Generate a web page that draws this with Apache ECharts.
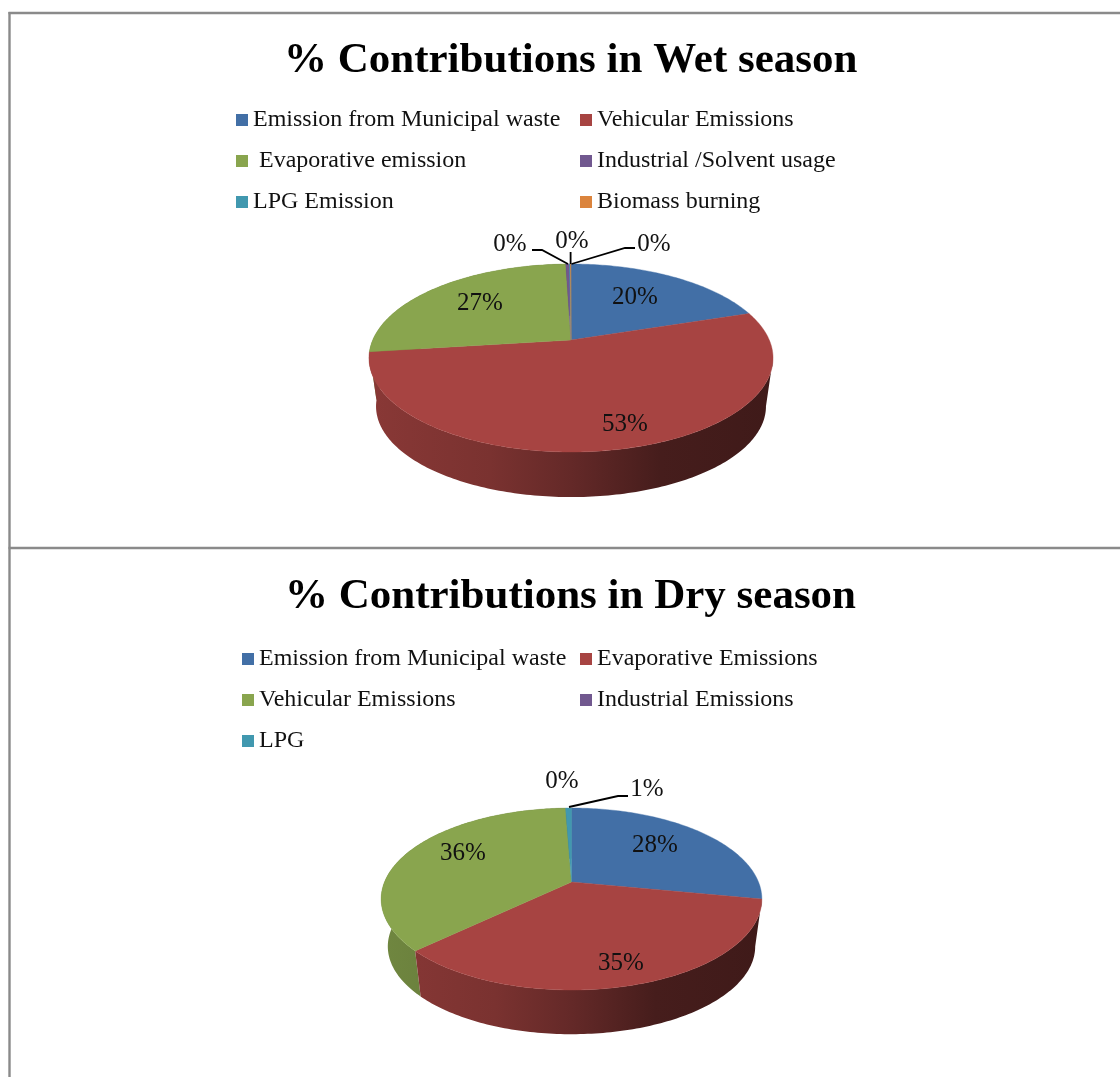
<!DOCTYPE html>
<html><head><meta charset="utf-8">
<script src="https://cdn.jsdelivr.net/npm/echarts@6/dist/echarts.min.js"></script>
<style>
html,body{margin:0;padding:0;background:#fff;width:1120px;height:1077px;overflow:hidden}
.c{position:absolute;left:0;top:0;width:1120px;height:1077px;filter:blur(0.55px)}
</style></head><body>
<div id="wet" class="c"></div><div id="dry" class="c"></div>
<script>
// ---- data ----
const wetCategories = ['Emission from Municipal waste','Vehicular Emissions',' Evaporative emission','Industrial /Solvent usage','LPG Emission','Biomass burning'];
const wetValues = [20, 53, 26.5, 0.35, 0.1, 0.05];
const dryCategories = ['Emission from Municipal waste','Evaporative Emissions','Vehicular Emissions','Industrial Emissions','LPG'];
const dryValues = [28, 35, 36.4, 0, 0.6];
const sliceColors = ['#426fa6','#a74442','#89a54e','#71588f','#4198af','#db843d'];
const wetTitle = '% Contributions in Wet season';
const dryTitle = '% Contributions in Dry season';

// ---- layout ----
const FONT = '"Liberation Serif","Times New Roman",serif';
const wetLayout = {
  cx:571, cy:340, R:198.3, a:90.55, k:0.1915, dy:49, shrink:0.965, gx:[369,773],
  titleLeft:284, titleTop:39,
  legendLefts:[236,580], legendTop:108,
  labels:[[635,297],[625,424],[480,303],[510,244],[572,241],[654,244]],
  leaders:[null,null,null,[[532,250],[542,250],[568,264]],[[570.6,252],[570.6,264]],[[571.5,264],[625,248],[635,248]]]
};
const dryLayout = {
  cx:571.5, cy:882, R:187, a:87.8, k:0.187, dy:48, shrink:0.965, gx:[381,762],
  titleLeft:285, titleTop:575,
  legendLefts:[242,580], legendTop:647,
  labels:[[655,845],[621,963],[463,853],[562,781],[647,789]],
  leaders:[null,null,null,null,[[569,807],[618,796],[628,796]]]
};
const wallStops = [[0,.82],[.3,.73],[.5,.6],[.72,.42],[1,.38]];

function shade(hex,f){
  const n=parseInt(hex.slice(1),16);
  return 'rgb('+[(n>>16)&255,(n>>8)&255,n&255].map(v=>Math.round(v*f)).join(',')+')';
}
function project(L,theta){            // perspective view of the flat pie
  const u=Math.sin(theta), v=Math.cos(theta), w=1+L.k*v;
  return [L.R*u/w, -L.a*v/w];
}
function arc(L,t0,t1){
  const n=Math.max(2,Math.ceil((t1-t0)/(Math.PI/180)));
  const pts=[];
  for(let j=0;j<=n;j++) pts.push(project(L,t0+(t1-t0)*j/n));
  return pts;
}
function buildChart(id,title,cats,vals,L,withFrame){
  const chart=echarts.init(document.getElementById(id),null,{renderer:'canvas'});
  const total=vals.reduce((a,b)=>a+b,0);
  const wallStart=Math.acos(-L.k);    // right-hand silhouette of the rim
  const renderItem=function(params,api){
    const i=params.seriesIndex, val=api.value(0), children=[];
    const start=vals.slice(0,i).reduce((a,b)=>a+b,0);
    const color=sliceColors[i];
    if(val>0){
      const t0=start/total*Math.PI*2, t1=(start+val)/total*Math.PI*2;
      const w0=Math.max(t0,wallStart);
      if(t1>w0+1e-6){
        const wall=arc(L,w0,t1);
        const up=wall.map(p=>[L.cx+p[0],L.cy+p[1]]);
        const low=wall.map(p=>[L.cx+p[0]*L.shrink,L.cy+L.dy+p[1]*L.shrink]).reverse();
        children.push({type:'polygon',z2:10-i,shape:{points:up.concat(low)},
          style:{fill:new echarts.graphic.LinearGradient(L.gx[0],0,L.gx[1],0,
            wallStops.map(s=>({offset:s[0],color:shade(color,s[1])})),true)}});
      }
      const topPts=arc(L,t0,t1).map(p=>[L.cx+p[0],L.cy+p[1]]);
      children.push({type:'polygon',z2:20,shape:{points:[[L.cx,L.cy]].concat(topPts)},
        style:{fill:color,stroke:color,lineWidth:0.4}});
    }
    if(L.leaders[i]) children.push({type:'polyline',z2:30,shape:{points:L.leaders[i]},
      style:{fill:null,stroke:'#000',lineWidth:1.8}});
    children.push({type:'text',z2:40,style:{text:Math.round(val/total*100)+'%',x:L.labels[i][0],y:L.labels[i][1],
      align:'center',verticalAlign:'middle',font:'25px '+FONT,fill:'#111'}});
    return {type:'group',children};
  };
  const series=cats.map((c,i)=>({
    type:'custom',name:c,coordinateSystem:'none',renderItem,silent:true,
    itemStyle:{color:sliceColors[i]},data:[[vals[i]]]
  }));
  const col=m=>cats.filter((c,i)=>i%2===m).map(name=>({name}));
  const legendBase={orient:'vertical',top:L.legendTop,padding:0,itemGap:17,itemWidth:12,itemHeight:12,icon:'rect',
    selectedMode:false,textStyle:{fontFamily:FONT,fontSize:24,color:'#111',padding:[0,0,0,0]}};
  const option={
    animation:false,backgroundColor:'transparent',
    title:{text:title,left:L.titleLeft,top:L.titleTop,padding:0,
      textStyle:{fontFamily:FONT,fontWeight:'bold',fontSize:43,color:'#000'}},
    legend:[Object.assign({left:L.legendLefts[0],data:col(0)},legendBase),
            Object.assign({left:L.legendLefts[1],data:col(1)},legendBase)],
    series
  };
  if(withFrame){
    const line=(x1,y1,x2,y2)=>({type:'line',shape:{x1,y1,x2,y2},style:{stroke:'#8a8a8a',lineWidth:2.4}});
    option.graphic=[line(8.5,13,1120,13),line(8.5,548,1120,548),line(9.5,12,9.5,1077)];
  }
  chart.setOption(option);
  return chart;
}
buildChart('wet',wetTitle,wetCategories,wetValues,wetLayout,true);
buildChart('dry',dryTitle,dryCategories,dryValues,dryLayout,false);
</script></body></html>
